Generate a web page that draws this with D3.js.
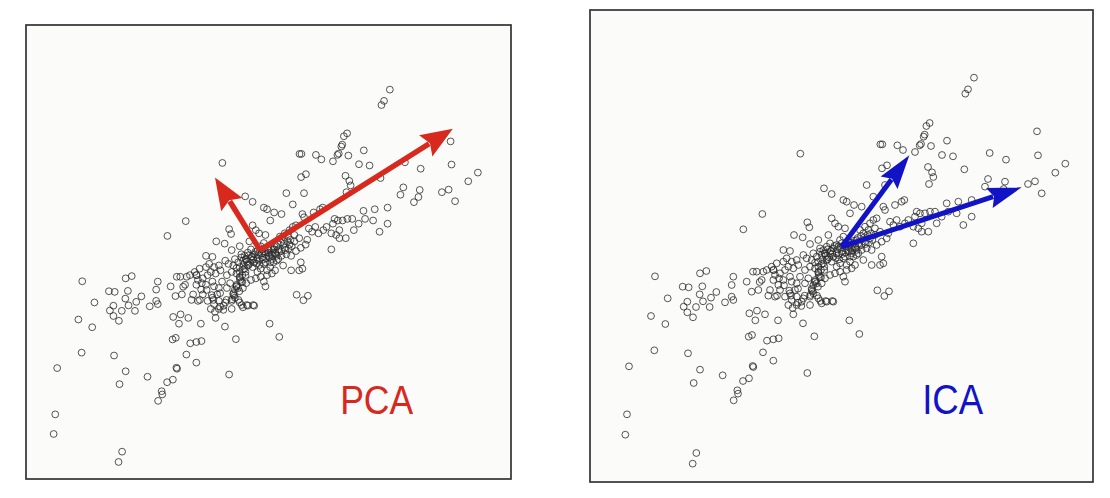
<!DOCTYPE html>
<html>
<head>
<meta charset="utf-8">
<script src="https://cdn.jsdelivr.net/npm/d3@7.9.0/dist/d3.min.js"></script>
<style>
  body { margin: 0; background: #fff; }
  svg { display: block; }
</style>
</head>
<body>
<svg id="chart" width="1110" height="498"></svg>
<script>
// the same sample is shown in both panels
const points = [
  [1167,1267],[1149,1232],[1141,1219],[1034,1131],[1024,1122],[1019,1096],[1016,1090],[1008,1068],[1004,1064],
  [886,1067],[892,1067],[937,1064],[954,1050],[990,1044],[1038,1062],[1086,1078],[1071,1035],[1104,1031],
  [1214,1041],[1263,1021],[1356,1106],[1359,1034],[1441,1009],[1411,982],[1138,992],[1029,999],[891,995],
  [906,1004],[646,1039],[1041,983],[1045,969],[1350,956],[1329,948],[1370,920],[1209,963],[1260,955],
  [1256,933],[717,935],
  [210,671],[345,680],[364,687],[293,640],[311,638],[352,641],[248,605],[344,617],[378,607],[394,624],
  [354,596],[307,595],[296,580],[333,579],[374,579],[420,593],[198,552],[241,528],[307,563],[324,548],
  [208,449],[309,440],[345,391],[326,351],[413,374],[132,401],[126,257],[121,196],[334,141],[323,109],
  [493,560],[516,568],[540,557],[511,539],[579,539],[491,490],[501,495],[546,478],[565,482],[581,485],
  [534,443],[565,418],[505,399],[503,402],[474,357],[492,365],[457,329],[459,319],[446,299],[667,381],
  [688,491],[654,530],[793,539],[823,498],[625,557],[877,629],[912,626],[898,612],
  [532,858],[475,812],[667,833],[673,818],[740,918],[775,900],[785,895],[795,860],[807,885],[740,845],
  [750,830],[760,820],[780,815],[627,795],[653,788],[675,768],[595,750],[615,747],[700,780],[730,795],
  [705,755],[725,760],[735,770],[745,755],[755,765],[765,780],[775,790],[685,740],[695,730],[710,735],
  [720,740],[735,740],[745,730],[755,740],[770,745],[780,755],[790,760],[805,770],[815,780],[815,750],
  [805,730],[795,715],[785,705],[765,710],[755,700],[740,715],[725,720],[715,710],[700,715],[680,720],
  [665,725],[655,735],[635,720],[620,715],[605,725],[595,715],[575,710],[560,700],[545,690],[535,685],
  [515,685],[530,660],[485,655],[445,670],[440,645],[440,610],[445,600],[500,625],[520,630],[565,690],
  [570,675],[585,680],[600,690],[610,700],[625,695],[640,705],[660,690],[675,700],[690,695],[700,685],
  [705,670],[690,660],[685,645],[680,630],[685,620],[675,610],[700,605],[695,650],[710,650],[720,665],
  [735,675],[750,680],[765,685],[775,670],[780,655],[785,690],[800,695],[810,705],[565,660],[580,645],
  [595,660],[615,670],[620,655],[635,650],[630,630],[615,620],[600,610],[585,630],[570,610],[620,600],
  [635,610],[650,595],[655,605],[675,585],[635,585],[610,585],[725,595],[745,595],[710,590],[660,650],
  [645,670],[555,630],
  [760,760],[770,770],[790,750],[800,740],[780,730],[760,735],[790,775],[810,760],[820,740],[800,755],
  [775,725],[795,730],[820,770],[830,750],[815,735],
  [705,745],[715,750],[728,752],[738,748],[748,762],[758,752],[768,758],[778,764],[788,768],[798,772],
  [808,778],[818,786],[828,792],[838,788],[848,796],[858,800],[722,732],[732,728],[742,738],[752,726],
  [762,722],[772,738],[782,742],[792,746],[802,750],[812,756],[822,762],[842,768],[852,772],[862,780],
  [712,722],[690,712],[700,700],[708,690],[718,700],
  [737,747],[719,739],[728,722],[710,708],[718,690],[700,682],[708,668],[690,656],[699,640],[683,626],
  [696,613],[676,615],[706,597],
  [566,690],[582,665],[597,644],[618,613],[639,592],[649,582],[623,576],[659,613],[680,634],[690,654],
  [701,675],[670,665],[639,634],[613,628],[576,613],[550,613],[524,654],[504,685],[722,597],[742,597],
  [845,945],[900,945],[1032,948],[865,910],[958,900],[950,895],[930,885],[895,880],[900,870],[830,880],
  [875,845],[865,840],[855,830],[840,820],[825,810],[835,800],[850,810],[870,815],[885,805],[870,795],
  [855,785],[840,775],[830,765],[845,755],[860,750],[875,765],[890,775],[905,785],[910,800],[915,835],
  [925,825],[935,840],[945,820],[960,830],[970,840],[985,820],[1000,815],[1010,830],[1020,860],[1035,865],
  [1050,865],[1005,860],[995,865],[990,850],[1010,805],[1030,805],[1055,830],[1070,850],[1090,865],
  [1085,890],[1120,895],[1160,900],[1115,860],[1135,825],[1160,850],[1200,940],[1242,917],[985,770],
  [890,730],[895,710],[885,705],[860,705],[835,720]
];

// arrows: shared start, two direction tips each
const pcaOrigin = [763, 768];
const pcaTips = [[1363, 1145], [623, 994]];
const icaOrigin = [770, 760];
const icaTips = [[973, 1034], [1310, 938]];

const labels = ['PCA', 'ICA'];

const panels = [
  { left: 26, top: 25, right: 511, bottom: 479, xDom: [35, 1544], yDom: [56, 1468],
    origin: pcaOrigin, tips: pcaTips, color: '#d8291f', label: labels[0],
    labelPos: [1126, 258], labelW: 73, size: 40, headLen: 32, headHalf: 12.5, shaft: 5.5 },
  { left: 590, top: 10, right: 1093, bottom: 482, xDom: [15, 1524], yDom: [54, 1470],
    origin: icaOrigin, tips: icaTips, color: '#1212c6', label: labels[1],
    labelPos: [1103, 258], labelW: 61, size: 42, headLen: 34, headHalf: 10.5, shaft: 5 }
];

const svg = d3.select('#chart');

panels.forEach(p => {
  let x = d3.scaleLinear().domain(p.xDom).range([p.left, p.right]);
  let y = d3.scaleLinear().domain(p.yDom).range([p.bottom, p.top]);
  let g = svg.append('g');

  g.append('rect')
    .attr('x', p.left).attr('y', p.top)
    .attr('width', p.right - p.left).attr('height', p.bottom - p.top)
    .attr('fill', '#fbfcfa')
    .attr('stroke', '#333')
    .attr('stroke-width', 1.7);

  g.selectAll('circle')
    .data(points)
    .join('circle')
    .attr('cx', d => x(d[0]))
    .attr('cy', d => y(d[1]))
    .attr('r', 3.4)
    .attr('fill', 'none')
    .attr('stroke', '#2a2a2a')
    .attr('stroke-width', 0.8);

  let ox = x(p.origin[0]), oy = y(p.origin[1]);
  p.tips.forEach(t => {
    let tx = x(t[0]), ty = y(t[1]);
    let len = Math.hypot(tx - ox, ty - oy);
    let ux = (tx - ox) / len, uy = (ty - oy) / len;
    let bx = tx - ux * p.headLen, by = ty - uy * p.headLen;
    g.append('line')
      .attr('x1', ox).attr('y1', oy)
      .attr('x2', bx + ux * 4).attr('y2', by + uy * 4)
      .attr('stroke', p.color)
      .attr('stroke-width', p.shaft);
    let head = [
      [tx, ty],
      [bx - uy * p.headHalf, by + ux * p.headHalf],
      [bx + ux * 5, by + uy * 5],
      [bx + uy * p.headHalf, by - ux * p.headHalf]
    ];
    g.append('path')
      .attr('d', d3.line()(head) + 'Z')
      .attr('fill', p.color);
  });

  g.append('text')
    .attr('x', x(p.labelPos[0]))
    .attr('y', y(p.labelPos[1]))
    .attr('text-anchor', 'middle')
    .attr('font-family', '"Liberation Sans", Arial, sans-serif')
    .attr('font-size', p.size)
    .attr('textLength', p.labelW)
    .attr('lengthAdjust', 'spacingAndGlyphs')
    .attr('fill', p.color)
    .text(p.label);
});
</script>
</body>
</html>
